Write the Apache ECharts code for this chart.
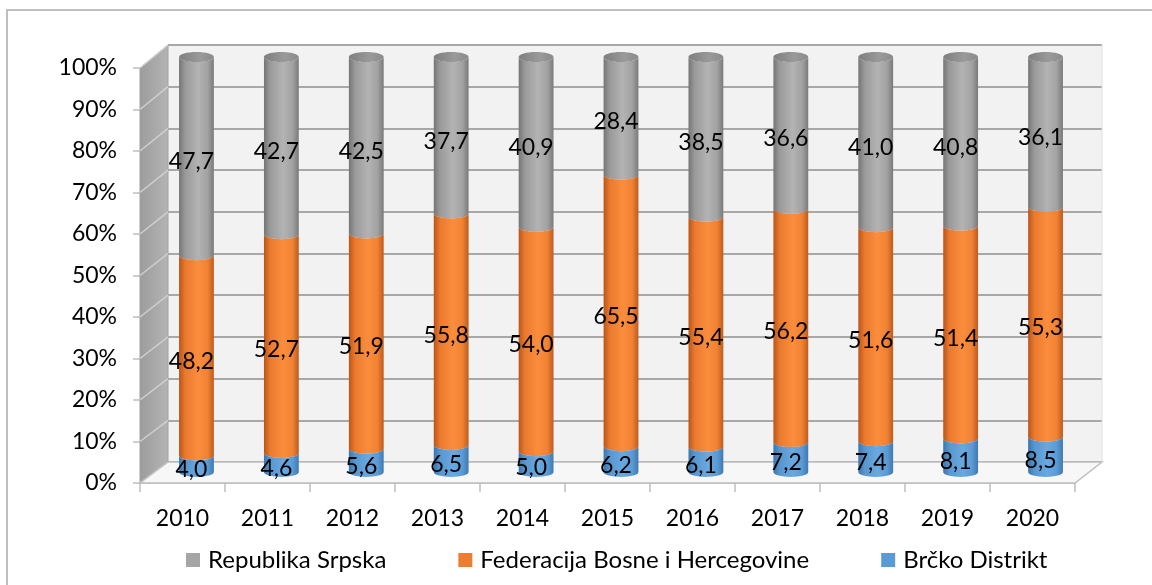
<!DOCTYPE html>
<html>
<head>
<meta charset="utf-8">
<script src="https://cdn.jsdelivr.net/npm/echarts@6/dist/echarts.min.js"></script>
<style>
html,body{margin:0;padding:0;background:#fff;}
#main{width:1152px;height:585px;}
</style>
</head>
<body>
<div id="main"></div>
<script>
const years = ['2010','2011','2012','2013','2014','2015','2016','2017','2018','2019','2020'];
const brcko = [4.0,4.6,5.6,6.5,5.0,6.2,6.1,7.2,7.4,8.1,8.5];
const fbih  = [48.2,52.7,51.9,55.8,54.0,65.5,55.4,56.2,51.6,51.4,55.3];
const rs    = [47.7,42.7,42.5,37.7,40.9,28.4,38.5,36.6,41.0,40.8,36.1];
const seriesNames = ['Republika Srpska','Federacija Bosne i Hercegovine','Brčko Distrikt'];
const yTicks = [0,10,20,30,40,50,60,70,80,90,100];

const FONT = 'Lato';
const chart = echarts.init(document.getElementById('main'));

// stacked, normalised to 100%
const stackOrder = [brcko, fbih, rs];
const segs = stackOrder.map(() => []);
years.forEach((y, i) => {
  const tot = brcko[i] + fbih[i] + rs[i];
  let acc = 0;
  stackOrder.forEach((arr, s) => {
    const lo = acc / tot * 100;
    acc += arr[i];
    const hi = acc / tot * 100;
    segs[s].push([i, lo, hi, arr[i]]);
  });
});

const shades = {
  gray:   ['#757575', '#9a9a9a', '#b3b3b3', '#a2a2a2', '#7a7a7a'],
  orange: ['#b9551a', '#ea7a2e', '#fb8d3d', '#f08233', '#bf5b1e'],
  blue:   ['#3a74ad', '#5896cf', '#6aa8e0', '#5b9bd5', '#3f79b2']
};
function grad(c) {
  return new echarts.graphic.LinearGradient(0, 0, 1, 0, [
    {offset: 0, color: c[0]}, {offset: 0.18, color: c[1]},
    {offset: 0.55, color: c[2]}, {offset: 0.82, color: c[3]}, {offset: 1, color: c[4]}
  ]);
}
function fmt(v) { return v.toFixed(1).replace('.', ','); }

function makeRender(shadeKey, isTop) {
  return function (params, api) {
    const i = api.value(0), lo = api.value(1), hi = api.value(2), raw = api.value(3);
    const p0 = api.coord([i, lo]);
    const p1 = api.coord([i, hi]);
    const band = api.size([1, 0])[0];
    const w = band * 0.41;
    const rx = w / 2, ry = 5;
    const cx = p0[0], y0 = p0[1], y1 = p1[1];
    const path = 'M' + (cx - rx) + ' ' + y1 +
      ' L' + (cx - rx) + ' ' + y0 +
      ' A' + rx + ' ' + ry + ' 0 0 0 ' + (cx + rx) + ' ' + y0 +
      ' L' + (cx + rx) + ' ' + y1 +
      ' A' + rx + ' ' + ry + ' 0 0 1 ' + (cx - rx) + ' ' + y1 + ' Z';
    const children = [{
      type: 'path',
      shape: {pathData: path},
      style: {fill: grad(shades[shadeKey])}
    }];
    if (isTop) {
      children.push({
        type: 'ellipse',
        shape: {cx: cx, cy: y1, rx: rx, ry: ry},
        style: {fill: new echarts.graphic.LinearGradient(0, 0, 1, 0, [
          {offset: 0, color: '#7e7e7e'}, {offset: 0.6, color: '#9a9a9a'}, {offset: 1, color: '#8a8a8a'}
        ])}
      });
    }
    children.push({
      type: 'text',
      style: {
        text: fmt(raw), x: cx - 5, y: (y0 + y1) / 2 + 6,
        textAlign: 'center', textVerticalAlign: 'middle',
        fontSize: 23, fontFamily: FONT, fill: '#000'
      }
    });
    return {type: 'group', children: children};
  };
}

const option = {
  animation: false,
  backgroundColor: '#ffffff',
  legend: {
    data: seriesNames,
    left: 181, top: 543,
    itemWidth: 14, itemHeight: 14, itemGap: 72,
    icon: 'rect',
    textStyle: {fontSize: 24, fontFamily: FONT, color: '#000', padding: [0, 0, 0, 3]}
  },
  grid: [
    {left: 140, right: 77, top: 68, bottom: 102},               // front plane (labels)
    {left: 168, right: 50, top: 45, bottom: 123, show: true, backgroundColor: '#f2f2f2', borderWidth: 0, z: 0}, // back wall
    {left: 154, right: 64, top: 57, bottom: 113}                 // bars (mid depth)
  ],
  xAxis: [
    {type: 'category', gridIndex: 0, data: years,
      axisLine: {show: true, lineStyle: {color: '#bfbfbf', width: 1.5}},
      axisTick: {show: true, length: 9, lineStyle: {color: '#bfbfbf', width: 1.5}},
      axisLabel: {fontSize: 23, fontFamily: FONT, color: '#000', margin: 24}},
    {type: 'category', gridIndex: 1, data: years, show: false},
    {type: 'category', gridIndex: 2, data: years, show: false}
  ],
  yAxis: [
    {type: 'value', gridIndex: 0, min: 0, max: 100, interval: 10,
      axisLine: {show: false},
      axisTick: {show: true, length: 7, lineStyle: {color: '#bfbfbf', width: 1.5}},
      splitLine: {show: false},
      axisLabel: {fontSize: 23, fontFamily: FONT, color: '#000', margin: 23,
        formatter: v => v + '%'}},
    {type: 'value', gridIndex: 1, min: 0, max: 100, interval: 10,
      axisLine: {show: false}, axisTick: {show: false}, axisLabel: {show: false},
      splitLine: {show: true, lineStyle: {color: '#a8a8a8', width: 2}}},
    {type: 'value', gridIndex: 2, min: 0, max: 100, interval: 10, show: false}
  ],
  series: [
    {name: 'Brčko Distrikt', type: 'custom', xAxisIndex: 2, yAxisIndex: 2, z: 6,
      itemStyle: {color: '#5b9bd5'}, renderItem: makeRender('blue', false),
      data: segs[0], encode: {x: 0, y: [1, 2]}},
    {name: 'Federacija Bosne i Hercegovine', type: 'custom', xAxisIndex: 2, yAxisIndex: 2, z: 5,
      itemStyle: {color: '#ed7d31'}, renderItem: makeRender('orange', false),
      data: segs[1], encode: {x: 0, y: [1, 2]}},
    {name: 'Republika Srpska', type: 'custom', xAxisIndex: 2, yAxisIndex: 2, z: 4,
      itemStyle: {color: '#a5a5a5'}, renderItem: makeRender('gray', true),
      data: segs[2], encode: {x: 0, y: [1, 2]}}
  ]
};
chart.setOption(option);

// 3D walls built from the library's own axes/grids
function gridRect(idx) {
  return chart.getModel().getComponent('grid', idx).coordinateSystem.getRect();
}
const f = gridRect(0), b = gridRect(1);
const fy = v => chart.convertToPixel({yAxisIndex: 0}, v);
const by = v => chart.convertToPixel({yAxisIndex: 1}, v);
const g = [];
g.push({type: 'rect', z: -10, shape: {x: 7, y: 10, width: 1200, height: 640},
  style: {fill: 'none', stroke: '#bfbfbf', lineWidth: 2}, silent: true});
g.push({type: 'polygon', z: 1, silent: true,
  shape: {points: [[f.x, fy(100)], [b.x, by(100)], [b.x, by(0)], [f.x, fy(0)]]},
  style: {fill: new echarts.graphic.LinearGradient(0, 0, 1, 0, [
    {offset: 0, color: '#9c9c9c'}, {offset: 1, color: '#b4b4b4'}]), stroke: '#a0a0a0', lineWidth: 1}});
yTicks.forEach(v => {
  g.push({type: 'line', z: 1, silent: true,
    shape: {x1: f.x, y1: fy(v), x2: b.x, y2: by(v)},
    style: {stroke: '#cfcfcf', lineWidth: 1.5}});
});
g.push({type: 'polygon', z: 1, silent: true,
  shape: {points: [[f.x, fy(0)], [b.x, by(0)], [b.x + b.width, by(0)], [f.x + f.width, fy(0)]]},
  style: {fill: '#f7f7f7', stroke: '#bfbfbf', lineWidth: 1.5}});
g.push({type: 'line', z: 1, silent: true,
  shape: {x1: b.x + b.width, y1: by(100), x2: b.x + b.width, y2: by(0)},
  style: {stroke: '#e0e0e0', lineWidth: 1}});
chart.setOption({graphic: g});
</script>
</body>
</html>
